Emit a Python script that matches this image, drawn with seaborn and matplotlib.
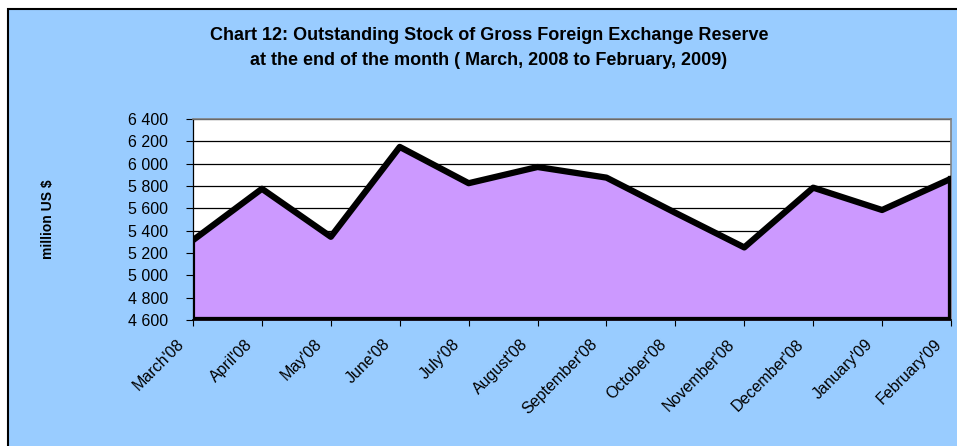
import numpy as np
import pandas as pd
import matplotlib
matplotlib.use("Agg")
import matplotlib.pyplot as plt
import matplotlib.transforms as mtransforms
from matplotlib.patches import Rectangle
from matplotlib.ticker import FuncFormatter
import seaborn as sns

# ------------------ Data ------------------
months = ["March'08", "April'08", "May'08", "June'08", "July'08", "August'08",
          "September'08", "October'08", "November'08", "December'08",
          "January'09", "February'09"]
reserve = [5315, 5775, 5345, 6150, 5825, 5970, 5875, 5560, 5250, 5785, 5585, 5865]
y_ticks = list(range(4600, 6401, 200))

BG = "#99CCFF"
FILL = "#CC99FF"

sns.set_theme(style="white")
plt.rcParams['font.family'] = ['Liberation Sans', 'DejaVu Sans']
plt.rcParams['text.color'] = 'black'

df = pd.DataFrame({"idx": np.arange(len(months)), "month": months, "value": reserve})

fig = plt.figure(figsize=(9.57, 4.46), dpi=100, facecolor="white")
# chart frame (white margin on the left and top, as in the reference)
frame = Rectangle((8 / 957, -0.02), 1.0, 1.02 - 9 / 446, transform=fig.transFigure,
                  facecolor=BG, edgecolor="black", linewidth=1.5, zorder=-10)
fig.add_artist(frame)

ax = fig.add_axes([0.2017, 0.2825, 0.7920, 0.4507])
ax.set_zorder(1)
ax.set_facecolor("white")

ax.fill_between(df["idx"], df["value"], 4600, color=FILL, zorder=2)
sns.lineplot(data=df, x="idx", y="value", color="black", linewidth=4.5, ax=ax, zorder=3)
# edges of the area
ax.plot([df["idx"].iloc[-1]] * 2, [4600, reserve[-1]], color="black", lw=4.5, zorder=3,
        solid_capstyle="projecting")
ax.plot([0, 0], [4600, reserve[0]], color="black", lw=3, zorder=3)
ax.axhline(4600, color="black", lw=4.5, zorder=3)

ax.set_xlim(0, len(months) - 1)
ax.set_ylim(4600, 6400)
ax.set_yticks(y_ticks)
ax.yaxis.set_major_formatter(FuncFormatter(lambda v, p: f"{int(v):,}".replace(",", " ")))
ax.yaxis.grid(True, color="black", linewidth=0.9, zorder=1)
ax.set_axisbelow(True)

ax.set_xticks(df["idx"])
ax.set_xticklabels(months, rotation=45, ha="right", rotation_mode="anchor", fontsize=11.5)
ax.tick_params(axis="x", length=4, width=0.8, color="black", bottom=True, pad=8,
               labelcolor="black")
ax.tick_params(axis="y", length=5, width=0.8, color="black", left=True, labelsize=11.5,
               pad=13, labelcolor="black")
shift = mtransforms.ScaledTranslation(-17 / 100, 0, fig.dpi_scale_trans)
for lbl in ax.get_xticklabels():
    lbl.set_transform(lbl.get_transform() + shift)

for s in ["top", "right"]:
    ax.spines[s].set_color("#808080")
    ax.spines[s].set_linewidth(1.2)
ax.spines["left"].set_color("black")
ax.spines["left"].set_linewidth(0.9)
ax.spines["bottom"].set_color("black")

ax.set_xlabel("")
ax.set_ylabel("")
fig.text(0.05, 0.509, "million US $", rotation=90, fontsize=10, fontweight="bold",
         ha="center", va="center")

fig.text(0.511, 0.92, "Chart 12: Outstanding Stock of Gross Foreign Exchange Reserve",
         ha="center", va="center", fontsize=13, fontweight="bold")
fig.text(0.511, 0.865, "at the end of the month ( March, 2008 to February, 2009)",
         ha="center", va="center", fontsize=13, fontweight="bold")

fig.savefig("out.png", dpi=100, facecolor="white")
